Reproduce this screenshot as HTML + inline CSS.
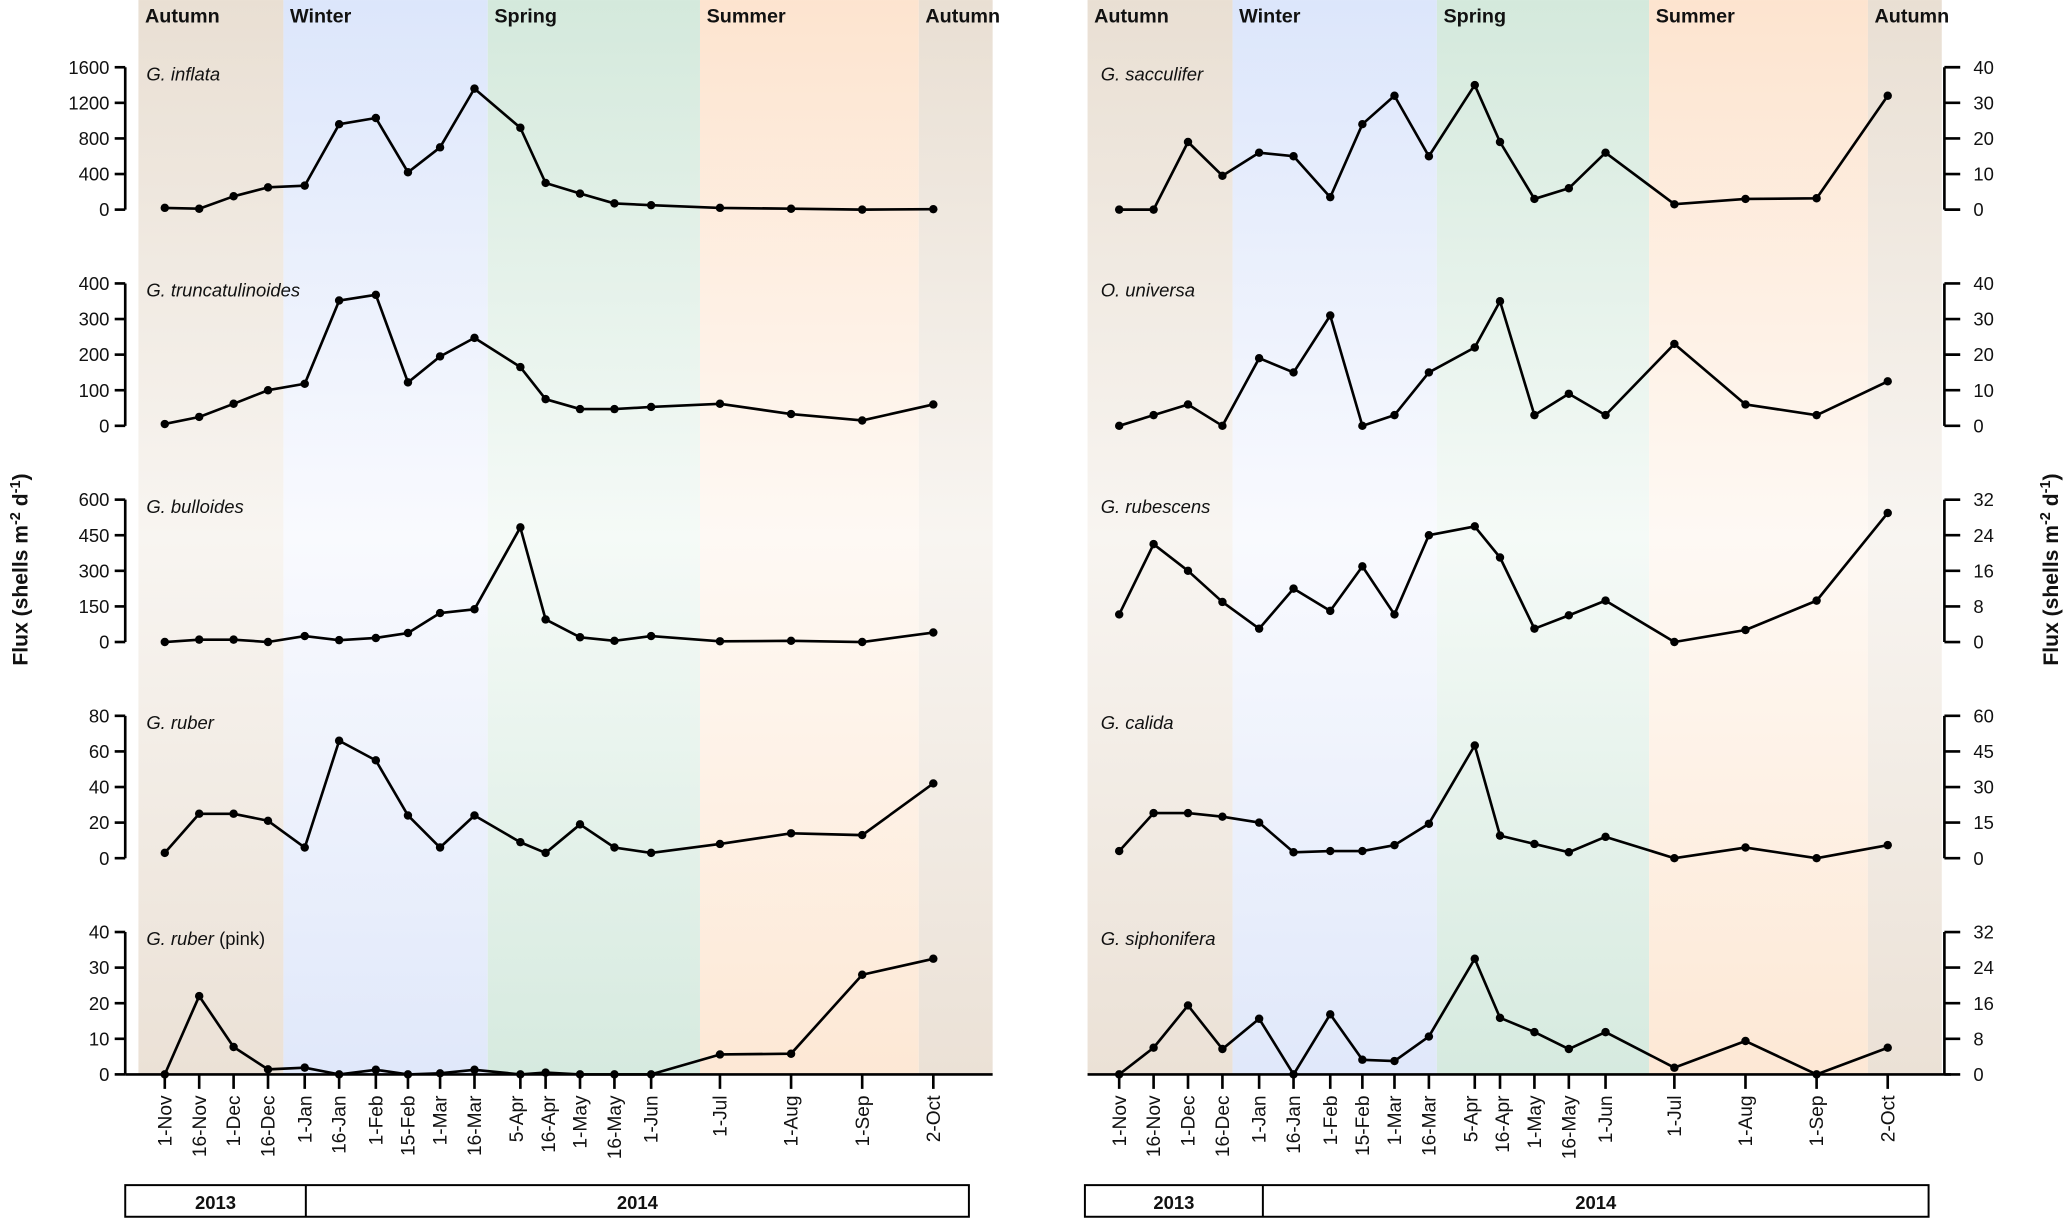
<!DOCTYPE html>
<html><head><meta charset="utf-8"><style>
html,body{margin:0;padding:0;background:#fff;}
svg{display:block;}
text{font-family:"Liberation Sans",sans-serif;}
</style></head><body>
<svg id="chart" width="2067" height="1221" viewBox="0 0 1568 926.2" xmlns="http://www.w3.org/2000/svg">
<defs>
<linearGradient id="gA" x1="0" y1="0" x2="0" y2="1"><stop offset="0" stop-color="#e9dfd3"/><stop offset="0.5" stop-color="#f8f5f1"/><stop offset="1" stop-color="#ebe1d6"/></linearGradient>
<linearGradient id="gW" x1="0" y1="0" x2="0" y2="1"><stop offset="0" stop-color="#dce6fb"/><stop offset="0.5" stop-color="#f9fafe"/><stop offset="1" stop-color="#e0e8fa"/></linearGradient>
<linearGradient id="gS" x1="0" y1="0" x2="0" y2="1"><stop offset="0" stop-color="#d4e9dc"/><stop offset="0.5" stop-color="#f5faf7"/><stop offset="1" stop-color="#d6eadf"/></linearGradient>
<linearGradient id="gU" x1="0" y1="0" x2="0" y2="1"><stop offset="0" stop-color="#fde4cf"/><stop offset="0.5" stop-color="#fef9f4"/><stop offset="1" stop-color="#fde8d5"/></linearGradient>
</defs>
<g id="root"></g>
</svg>
<script>
const dateLabels = ["1-Nov","16-Nov","1-Dec","16-Dec","1-Jan","16-Jan","1-Feb","15-Feb","1-Mar","16-Mar","5-Apr","16-Apr","1-May","16-May","1-Jun","1-Jul","1-Aug","1-Sep","2-Oct"];
const dateDays = [0,15,30,45,61,76,92,106,120,135,155,166,181,196,212,242,273,304,335];
const leftNames = ["G. inflata","G. truncatulinoides","G. bulloides","G. ruber","G. ruber"];
const rightNames = ["G. sacculifer","O. universa","G. rubescens","G. calida","G. siphonifera"];
const inflata = [20,10,150,250,270,960,1030,420,700,1360,920,300,180,70,50,20,10,0,5];
const truncatulinoides = [5,25,62,100,118,352,368,122,195,247,165,75,47,47,53,62,33,15,60];
const bulloides = [0,10,10,0,25,8,17,38,122,138,483,95,20,5,25,3,5,0,40];
const ruber = [3,25,25,21,6,66,55,24,6,24,9,3,19,6,3,8,14,13,42];
const ruberPink = [0,22,7.7,1.4,1.9,0,1.3,0,0.3,1.3,0,0.5,0,0,0,5.6,5.8,28,32.5];
const sacculifer = [0,0,19,9.5,16,15,3.5,24,32,15,35,19,3,6,16,1.5,3,3.2,32];
const universa = [0,3,6,0,19,15,31,0,3,15,22,35,3,9,3,23,6,3,12.5];
const rubescens = [6.2,22,16,9,3,12,7,17,6.2,24,26,19,3,6,9.3,0,2.7,9.3,29];
const calida = [3,19,19,17.5,15,2.5,3,3,5.5,14.5,47.5,9.5,6,2.5,9,0,4.5,0,5.5];
const siphonifera = [0,6,15.5,5.7,12.5,0,13.5,3.3,3,8.5,26,12.7,9.5,5.7,9.5,1.5,7.5,0,6];
const leftTicks = [[0,400,800,1200,1600],[0,100,200,300,400],[0,150,300,450,600],[0,20,40,60,80],[0,10,20,30,40]];
const rightTicks = [[0,10,20,30,40],[0,10,20,30,40],[0,8,16,24,32],[0,15,30,45,60],[0,8,16,24,32]];
const leftSeries = [inflata,truncatulinoides,bulloides,ruber,ruberPink];
const rightSeries = [sacculifer,universa,rubescens,calida,siphonifera];

const NS = "http://www.w3.org/2000/svg";
const root = document.getElementById('root');
function mk(tag, attrs, parent, txt){
  const e = document.createElementNS(NS, tag);
  for (const k in attrs) e.setAttribute(k, attrs[k]);
  if (txt !== undefined) e.textContent = txt;
  (parent||root).appendChild(e);
  return e;
}
const PX_PER_DAY = 583/335;
const zeroY = r => 159 + r*164;
const PH = 108;

function drawPanel(side){
  const isL = side === 'L';
  const off = isL ? 0 : 720;
  const x = d => (isL ? 125 : 849) + d*PX_PER_DAY;
  const g = mk('g', {});
  
  
  const seasons = [["Autumn",105,215,"gA"],["Winter",215,370,"gW"],["Spring",370,531,"gS"],["Summer",531,697,"gU"],["Autumn",697,753,"gA"]];
  seasons.forEach((s,i)=>{
    const r = mk('rect',{x:s[1]+off,y:0,width:s[2]-s[1],height:815,fill:'url(#'+s[3]+')'},g);
    
    
    const t = mk('text',{x:s[1]+off+5,y:17,'font-size':15,'font-weight':'bold',fill:'#111'},g,s[0]);
    
    
  });
  const series = isL ? leftSeries : rightSeries;
  const ticks = isL ? leftTicks : rightTicks;
  const names = isL ? leftNames : rightNames;
  const ax = isL ? 95 : 1475;
  for (let r=0;r<5;r++){
    const z = zeroY(r);
    const max = ticks[r][ticks[r].length-1];
    const y = v => z - v/max*PH;
    const pg = mk('g',{},g);
    
    
    const a = mk('line',{x1:ax,y1:y(max),x2:ax,y2:z,stroke:'#000','stroke-width':2},pg);
    
    
    ticks[r].forEach(tv=>{
      const tl = mk('line',{x1:ax,y1:y(tv),x2:isL?ax-8:ax+12,y2:y(tv),stroke:'#000','stroke-width':2},pg);
      
      
      const tt = mk('text',{x:isL?83:1497,y:y(tv)+5,'font-size':14,'text-anchor':isL?'end':'start',fill:'#111'},pg,String(tv));
      
      
    });
    const lab = mk('text',{x:isL?111:835,y:y(max)+10,'font-size':14,'font-style':'italic',fill:'#111'},pg,names[r]);
    
    
    if (isL && r===4){
      const ts = mk('tspan',{'font-style':'normal'},lab,' (pink)');
      
      
    }
    const vals = series[r];
    const pts = vals.map((v,i)=>x(dateDays[i]).toFixed(1)+','+y(v).toFixed(1)).join(' ');
    const pl = mk('polyline',{points:pts,fill:'none',stroke:'#000','stroke-width':2,'stroke-linejoin':'round'},pg);
    
    
    vals.forEach((v,i)=>{
      const c = mk('circle',{cx:x(dateDays[i]),cy:y(v),r:3.2,fill:'#000'},pg);
      
      
    });
  }
  const xa = mk('line',{x1:isL?95:825,y1:815,x2:isL?753:1480,y2:815,stroke:'#000','stroke-width':2},g);
  
  
  dateDays.forEach((d,i)=>{
    let xx = x(d);
    const tk = mk('line',{x1:xx,y1:815,x2:xx,y2:826,stroke:'#000','stroke-width':2},g);
    
    
    let lx = xx + 5;
    if (dateLabels[i]==='5-Apr') lx -= 3;
    if (dateLabels[i]==='16-Apr') lx += 2;
    const tt = mk('text',{x:0,y:0,'font-size':14.5,'text-anchor':'end',fill:'#111',transform:'translate('+lx+',831) rotate(-90)'},g,dateLabels[i]);
    
    
  });
  const bx = isL?95:823, bw = 640, dv = isL?232:958;
  const yb = mk('g',{},g);
  
  
  mk('rect',{x:bx,y:899,width:bw,height:24,fill:'#fff',stroke:'#000','stroke-width':1.5},yb);
  mk('line',{x1:dv,y1:899,x2:dv,y2:923,stroke:'#000','stroke-width':1.5},yb);
  const y1 = mk('text',{x:(bx+dv)/2,y:917,'font-size':14,'font-weight':'bold','text-anchor':'middle',fill:'#111'},yb,'2013');
  
  
  const y2 = mk('text',{x:(dv+bx+bw)/2,y:917,'font-size':14,'font-weight':'bold','text-anchor':'middle',fill:'#111'},yb,'2014');
  
  
}
drawPanel('L');
drawPanel('R');
function title(xp, name){
  const t = mk('text',{x:0,y:0,'font-size':16,'font-weight':'bold','text-anchor':'middle',fill:'#111',transform:'translate('+xp+',432) rotate(-90)'});
  
  
  t.appendChild(document.createTextNode('Flux (shells m'));
  mk('tspan',{dy:-6,'font-size':11},t,'-2');
  mk('tspan',{dy:6},t,' d');
  mk('tspan',{dy:-6,'font-size':11},t,'-1');
  mk('tspan',{dy:6},t,')');
}
title(21,'left-y-axis-title');
title(1561,'right-y-axis-title');
</script>
</body></html>
